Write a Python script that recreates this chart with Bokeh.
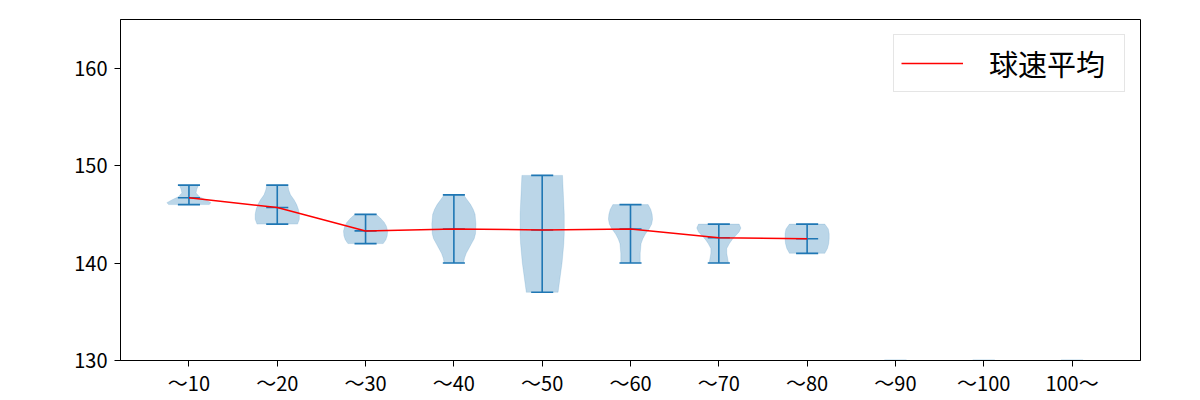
from bokeh.plotting import figure
from bokeh.models import Range1d, FixedTicker, Legend, LegendItem
from bokeh.embed import file_html
from bokeh.resources import INLINE

# ---- data ----
categories = ["〜10", "〜20", "〜30", "〜40", "〜50", "〜60", "〜70", "〜80", "〜90", "〜100", "100〜"]
positions = list(range(1, len(categories) + 1))

mins = [146, 144, 142, 140, 137, 140, 140, 141]
maxs = [148, 148, 145, 147, 149, 146, 144, 144]
means = [146.7, 145.7, 143.3, 143.5, 143.4, 143.5, 142.6, 142.5]

# violin outlines: (speed, half width in category units)
v_speeds = [
    [146.0, 146.2, 146.5, 146.8, 147.2, 147.6, 148.0],
    [144.0, 144.5, 145.0, 145.5, 146.0, 146.5, 147.0, 147.5, 148.0],
    [142.0, 142.4, 142.8, 143.3, 143.8, 144.2, 144.6, 145.0],
    [140.0, 140.5, 141.0, 141.5, 142.0, 142.5, 143.0, 144.0, 145.0, 145.5, 146.0, 146.5, 147.0],
    [137.0, 138.0, 139.0, 140.0, 141.0, 142.0, 143.0, 144.0, 145.0, 146.0, 147.0, 148.0, 149.0],
    [140.0, 141.0, 142.0, 142.5, 143.0, 143.5, 144.0, 144.5, 145.0, 145.5, 146.0],
    [140.0, 140.5, 141.0, 141.5, 142.0, 142.4, 142.8, 143.2, 143.6, 144.0],
    [141.0, 141.5, 142.0, 142.5, 143.0, 143.5, 144.0],
]
v_widths = [
    [0.23, 0.25, 0.19, 0.12, 0.08, 0.09, 0.11],
    [0.23, 0.25, 0.25, 0.24, 0.22, 0.19, 0.15, 0.13, 0.12],
    [0.20, 0.23, 0.245, 0.25, 0.235, 0.21, 0.17, 0.12],
    [0.11, 0.12, 0.14, 0.17, 0.20, 0.23, 0.245, 0.25, 0.24, 0.22, 0.19, 0.15, 0.11],
    [0.18, 0.195, 0.21, 0.225, 0.235, 0.245, 0.25, 0.25, 0.25, 0.245, 0.24, 0.235, 0.23],
    [0.11, 0.11, 0.12, 0.14, 0.17, 0.21, 0.24, 0.25, 0.245, 0.23, 0.20],
    [0.11, 0.10, 0.09, 0.09, 0.12, 0.15, 0.19, 0.23, 0.25, 0.23],
    [0.20, 0.23, 0.245, 0.25, 0.25, 0.24, 0.20],
]
empty_positions = [9, 10, 11]
empty_level = 130.0

BLUE = "#1f77b4"
FONT = "Noto Sans CJK JP"

p = figure(width=1200, height=400, output_backend="svg", toolbar_location=None,
           x_range=Range1d(0.225, 11.775), y_range=Range1d(130, 165),
           min_border_left=120, min_border_right=60, min_border_top=19, min_border_bottom=40)
p.xgrid.visible = False
p.ygrid.visible = False
p.outline_line_color = "black"
p.outline_line_alpha = 1
p.outline_line_width = 1
p.background_fill_color = "white"

# violin bodies
xs, ys = [], []
for pos, sp, wd in zip(positions, v_speeds, v_widths):
    px = [pos + w for w in wd] + [pos - w for w in reversed(wd)]
    py = list(sp) + list(reversed(sp))
    xs.append(px)
    ys.append(py)
p.patches(xs, ys, fill_color=BLUE, fill_alpha=0.3, line_color=BLUE, line_alpha=0.3, line_width=0.5)

# empty categories (flat bodies at the bottom)
p.segment(x0=[q - 0.125 for q in empty_positions], x1=[q + 0.125 for q in empty_positions],
          y0=[empty_level] * 3, y1=[empty_level] * 3, line_color=BLUE, line_alpha=0.3, line_width=2)

n = len(mins)
cap = 0.125
# vertical bars
p.segment(x0=positions[:n], x1=positions[:n], y0=mins, y1=maxs, line_color=BLUE, line_width=1.6)
# caps & means
for vals in (mins, maxs, means):
    p.segment(x0=[q - cap for q in positions[:n]], x1=[q + cap for q in positions[:n]],
              y0=vals, y1=vals, line_color=BLUE, line_width=1.6)

# mean line
r = p.line(positions[:n], means, line_color="red", line_width=1.5)

legend = Legend(items=[LegendItem(label="球速平均", renderers=[r])], location="top_right")
legend.label_text_font = FONT
legend.label_text_font_size = "29px"
legend.label_text_color = "black"
legend.glyph_width = 62
legend.label_standoff = 26
legend.label_width = 128
legend.padding = 7
legend.margin = 15
legend.border_line_color = "#cccccc"
legend.border_line_width = 1
legend.background_fill_alpha = 0.9
p.add_layout(legend)

# axes
p.xaxis.ticker = FixedTicker(ticks=positions)
p.xaxis.major_label_overrides = {q: c for q, c in zip(positions, categories)}
p.yaxis.ticker = FixedTicker(ticks=[130, 140, 150, 160])
for ax in (p.xaxis[0], p.yaxis[0]):
    ax.major_label_text_font = FONT
    ax.major_label_text_font_size = "20px"
    ax.major_label_text_color = "black"
    ax.axis_line_color = "black"
    ax.major_tick_line_color = "black"
    ax.major_tick_out = 6
    ax.major_tick_in = 0
    ax.minor_tick_line_color = None
p.xaxis[0].major_label_standoff = 1
p.yaxis[0].major_label_standoff = 7

open("out.html", "w").write(file_html(p, INLINE))
